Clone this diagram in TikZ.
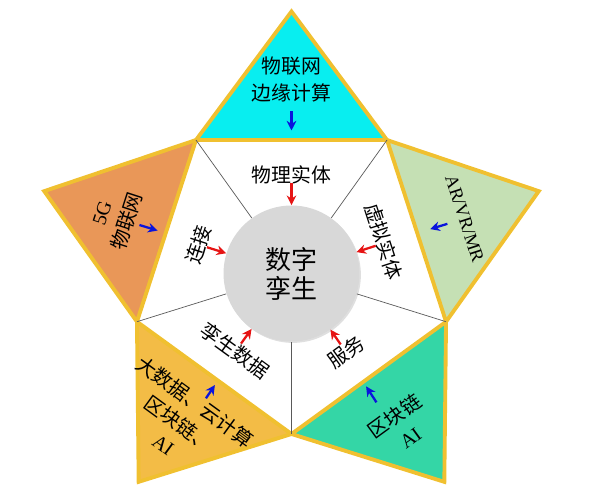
\documentclass[tikz,border=0pt]{standalone}
\usepackage{fontspec}
\setmainfont{Liberation Serif}
\newfontfamily\cjk{Noto Sans CJK SC}
\newfontfamily\latin{Liberation Serif}
\usetikzlibrary{arrows.meta,shadows}
\definecolor{rim}{RGB}{240,192,48}
\definecolor{cyanfill}{RGB}{8,238,240}
\definecolor{orangefill}{RGB}{233,151,88}
\definecolor{greenfill}{RGB}{197,224,180}
\definecolor{goldfill}{RGB}{243,188,70}
\definecolor{tealfill}{RGB}{52,214,166}
\definecolor{hubgray}{RGB}{216,216,216}
\definecolor{redarrow}{RGB}{230,20,20}
\definecolor{bluearrow}{RGB}{10,20,220}

\tikzset{
  petal/.style={draw=rim,line width=2.2pt,line join=miter},
  spoke/.style={draw=gray!70!black,line width=0.4pt},
  lab/.style={font=\cjk\fontsize{11.3}{15}\selectfont,align=center,inner sep=0pt},
  redtip/.style={redarrow,line width=1.3pt,-{Stealth[length=5.5pt,width=5.5pt]}},
  bluetip/.style={bluearrow,line width=1.3pt,-{Stealth[length=5.5pt,width=5.5pt]}}
}

\begin{document}
\begin{tikzpicture}[x=0.02cm,y=0.02cm]
\useasboundingbox (-291.5,-221.5) rectangle (300.5,271.5);
% pentagon corners and star tips
\foreach \i/\a in {1/126,2/54,3/-18,4/-90,5/198}
  \coordinate (p\i) at (\a:162.5);
\foreach \i/\a in {1/90,2/18,3/-54,4/234,5/162}
  \coordinate (s\i) at (\a:260);

% outer triangles
\filldraw[petal,fill=cyanfill] (p1)--(s1)--(p2)--cycle;
\filldraw[petal,fill=greenfill] (p2)--(s2)--(p3)--cycle;
\filldraw[petal,fill=tealfill] (p3)--(s3)--(p4)--cycle;
\filldraw[petal,fill=goldfill] (p4)--(s4)--(p5)--cycle;
\filldraw[petal,fill=orangefill] (p5)--(s5)--(p1)--cycle;

% centre
\node[circle,fill=hubgray,minimum size=2.72cm,inner sep=0pt,align=center,
  font=\cjk\fontsize{14.8}{16.5}\selectfont,
  drop shadow={shadow xshift=0.8pt,shadow yshift=-0.8pt,opacity=0.25}] (hub) at (0,-2) {数字\\孪生};
\foreach \i in {1,...,5}
  \draw[spoke] (p\i) -- (hub);

% inner labels and red arrows
\foreach \i/\a/\b/\r/\t in {1/90/90/0/物理实体,2/18/17/-72/虚拟实体,3/-56/-56/36/服务,
    4/234.6/235/-36/孪生数据,5/164/164/72/连接}{
  \node[lab,rotate=\r] (in\i) at (\a:97) {\t};
  \coordinate (rt\i) at (\b:88);
  \draw[redtip] (rt\i) -- (hub);
}

% outer labels
\node[lab] (out1) at (90:192) {物联网\\边缘计算};
\node[lab,rotate=-72] (out2) at (17:181) {{\latin\fontsize{10.5}{13}\selectfont AR/VR/MR}};
\node[lab,rotate=36] (out3) at (-54.5:190) {区块链\\{\latin AI}};
\node[lab,rotate=-36] (out4) at (233.5:188) {大数据、云计算\\区块链、\\{\latin AI}};
\node[lab,rotate=72] (out5) at (163:184) {{\latin 5G}\\物联网};

% blue arrows
\foreach \i/\a/\u/\v in {1/90/160/141,2/17/163/145,3/-57/156/137,4/236/153/137,5/163/159/140}{
  \coordinate (bt\i) at (\a:\u);
  \coordinate (bh\i) at (\a:\v);
  \draw[bluetip] (bt\i) -- (bh\i);
}
\end{tikzpicture}
\end{document}
